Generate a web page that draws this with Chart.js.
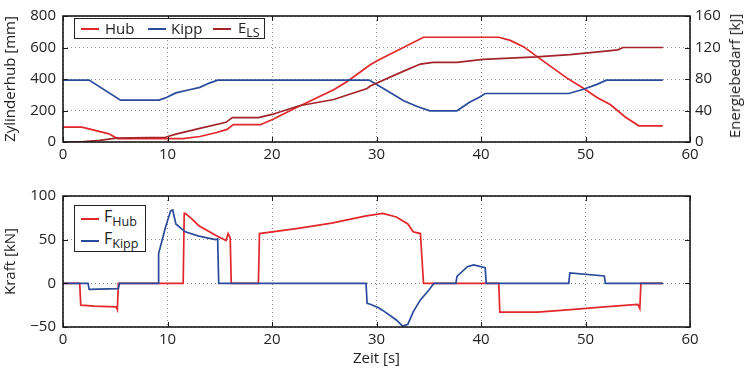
<!DOCTYPE html>
<html>
<head>
<meta charset="utf-8">
<script src="https://cdn.jsdelivr.net/npm/chart.js@4.4.1/dist/chart.umd.min.js"></script>
<style>
  body { margin: 0; background: #fff; font-family: 'Open Sans', sans-serif; color: #222; }
  #wrap { position: relative; width: 745px; height: 372px; }
  #oben { position: absolute; left: 0; top: 0; }
  #unten { position: absolute; left: 0; top: 165px; }
  .legende { position: absolute; background: #fff; border: 1px solid #222; font-size: 15px; }
  .legende .strich { position: absolute; height: 0; width: 18px; border-top: 2px solid; }
  .legende .txt { position: absolute; line-height: 18px; white-space: nowrap; }
  .legende sub { font-size: 12.5px; vertical-align: -4px; line-height: 0; }
  #titelRechts { position: absolute; left: 734px; top: 76px; font-size: 15px; white-space: nowrap;
                 transform: translate(-50%, -50%) rotate(-90deg); }
</style>
</head>
<body>
<div id="wrap">
  <canvas id="oben" width="745" height="165"></canvas>
  <canvas id="unten" width="745" height="207"></canvas>

  <div class="legende" style="left:74px; top:18px; width:189px; height:19px;">
    <span class="strich" style="left:6px; top:9px; border-color:#e3262a;"></span>
    <span class="txt" style="left:30px; top:0px;">Hub</span>
    <span class="strich" style="left:73px; top:9px; border-color:#2a4b9b;"></span>
    <span class="txt" style="left:96px; top:0px;">Kipp</span>
    <span class="strich" style="left:138px; top:9px; border-color:#a3252b;"></span>
    <span class="txt" style="left:163px; top:-1px;">E<sub>LS</sub></span>
  </div>

  <div class="legende" style="left:74px; top:205px; width:70px; height:45px;">
    <span class="strich" style="left:6px; top:12px; border-color:#e3262a;"></span>
    <span class="txt" style="left:29px; top:1px; font-size:16px;">F<sub>Hub</sub></span>
    <span class="strich" style="left:6px; top:34px; border-color:#2a4b9b;"></span>
    <span class="txt" style="left:29px; top:23px; font-size:16px;">F<sub>Kipp</sub></span>
  </div>

  <div id="titelRechts">Energiebedarf [kJ]</div>
</div>
<script>
// oberes Diagramm: Zylinderhub [mm] und Energiebedarf [kJ]
const hubZeit = [0, 1.8, 4.4, 5.2, 11.5, 13.1, 14.7, 15.7, 16.3, 18.9, 20.1, 22, 25.9, 27.2, 29.4, 30.2, 34.5, 41.7, 42.8, 44.1, 45.6, 46.9, 48.2, 49.8, 51.1, 52.4, 53.8, 55.1, 57.4];
const hub = [94, 94, 52, 22, 22, 35, 60, 80, 110, 110, 145, 208, 332, 384, 490, 520, 665, 665, 645, 604, 531, 469, 407, 341, 283, 236, 159, 103, 103];

const kippZeit = [0, 2.5, 5.5, 9.2, 9.8, 10.8, 12.1, 13.1, 14, 14.8, 29.3, 31.3, 32.6, 33.9, 35.1, 37.7, 38.9, 39.8, 40.4, 48.4, 49.8, 51.1, 52.0, 57.4];
const kipp = [393, 393, 266, 266, 280, 312, 332, 347, 374, 393, 393, 314, 262, 225, 198, 198, 252, 283, 308, 308, 335, 366, 393, 393];

const elsZeit = [0, 2, 3.5, 5.1, 9.8, 10.8, 13, 15.6, 16.2, 18.7, 20, 22.6, 25.9, 29.1, 29.4, 32.6, 34.2, 35.4, 37.7, 40.2, 45.3, 48.5, 51.7, 53.1, 53.6, 57.4];
const els = [0, 0.5, 2, 5, 6, 10, 17, 25, 31, 31, 35, 46, 54, 68, 71, 90, 99, 101, 101, 105, 108, 111, 115, 117, 120, 120];

// unteres Diagramm: Kraft [kN]
const fHubZeit = [0, 1.6, 1.7, 3, 5.1, 5.2, 5.3, 11.5, 11.6, 11.7, 12.3, 13, 14.6, 15.6, 15.8, 16.0, 16.1, 18.7, 18.8, 22.5, 25.7, 28.9, 30.6, 31.9, 33, 33.5, 34.2, 34.5, 41.7, 41.8, 45.4, 48.6, 51.8, 55.0, 55.2, 55.3, 57.4];
const fHub = [0, 0, -25, -26, -27, -30, 0, 0, 80, 80, 74, 66, 55, 49, 57, 52, 0, 0, 57, 63, 69, 77, 80, 76, 68, 59, 57, 0, 0, -33, -33, -30, -27, -24, -29, 0, 0];

const fKippZeit = [0, 2.4, 2.5, 5.3, 5.4, 9.1, 9.15, 9.8, 10.3, 10.5, 10.8, 11.7, 13, 14.6, 14.8, 14.9, 29.0, 29.1, 29.4, 30.2, 30.6, 31.9, 32.5, 33, 33.5, 34.2, 35, 35.5, 37.6, 37.7, 38.7, 39.3, 40.4, 40.5, 48.4, 48.5, 51.8, 51.9, 57.4];
const fKipp = [0, 0, -7, -6, 0, 0, 34, 64, 83, 84, 68, 59, 54, 50, 51, 0, 0, -23, -24, -28, -31, -42, -49, -47, -33, -19, -8, 0, 0, 8, 19, 21, 18, 0, 0, 12, 8.4, 0, 0];

const xTicks = [0, 10, 20, 30, 40, 50, 60];

const rot = '#e3262a';
const blau = '#2a4b9b';
const braun = '#a3252b';
const schrift = { family: "'Open Sans', sans-serif", size: 15 };
const textFarbe = '#222';

function punkte(zeit, werte) {
    return zeit.map((t, i) => ({ x: t, y: werte[i] }));
}

// Rahmen mit Tickmarken nach innen (wie Matlab)
const rahmen = {
    id: 'rahmen',
    afterDraw(chart) {
        const { ctx, chartArea: a, scales } = chart;
        ctx.save();
        ctx.strokeStyle = '#1a1a1a';
        ctx.lineWidth = 1;
        ctx.beginPath();
        scales.x.ticks.forEach(t => {
            const px = Math.round(scales.x.getPixelForValue(t.value)) + 0.5;
            ctx.moveTo(px, a.bottom); ctx.lineTo(px, a.bottom - 5);
            ctx.moveTo(px, a.top); ctx.lineTo(px, a.top + 5);
        });
        scales.y.ticks.forEach(t => {
            const py = Math.round(scales.y.getPixelForValue(t.value)) + 0.5;
            ctx.moveTo(a.left, py); ctx.lineTo(a.left + 5, py);
            ctx.moveTo(a.right, py); ctx.lineTo(a.right - 5, py);
        });
        ctx.stroke();
        ctx.lineWidth = 1.6;
        ctx.strokeRect(a.left, a.top, a.right - a.left, a.bottom - a.top);
        ctx.restore();
    }
};

const xAchse = (hoehe, titel) => ({
    type: 'linear', min: 0, max: 60,
    afterBuildTicks: s => { s.ticks = xTicks.map(v => ({ value: v })); },
    ticks: { font: schrift, color: textFarbe, padding: 4, maxRotation: 0 },
    grid: { drawTicks: false, color: '#8a8a8a', lineWidth: 1 },
    border: { display: false, dash: [1, 3] },
    title: { display: !!titel, text: titel, font: schrift, color: textFarbe, padding: { top: 0, bottom: 4 } },
    afterFit: s => { s.height = hoehe; }
});

const gemeinsam = {
    responsive: false,
    animation: false,
    parsing: false,
    elements: { point: { radius: 0 }, line: { borderWidth: 1.7, tension: 0 } },
    plugins: { legend: { display: false }, tooltip: { enabled: false } }
};

new Chart(document.getElementById('oben'), {
    type: 'line',
    data: {
        datasets: [
            { label: 'Hub', data: punkte(hubZeit, hub), borderColor: rot, yAxisID: 'y', order: 2 },
            { label: 'Kipp', data: punkte(kippZeit, kipp), borderColor: blau, yAxisID: 'y', order: 1 },
            { label: 'E_LS', data: punkte(elsZeit, els), borderColor: braun, yAxisID: 'y2', order: 0 }
        ]
    },
    options: {
        ...gemeinsam,
        layout: { padding: { top: 13, left: 0, right: 0, bottom: 0 } },
        scales: {
            x: xAchse(23, ''),
            y: {
                min: 0, max: 800,
                ticks: { stepSize: 200, font: schrift, color: textFarbe, padding: 7 },
                grid: { drawTicks: false, color: '#8a8a8a', lineWidth: 1 },
                border: { display: false, dash: [1, 3] },
                title: { display: true, text: 'Zylinderhub [mm]', font: schrift, color: textFarbe, padding: { top: 2, bottom: 0 } },
                afterFit: s => { s.width = 63; }
            },
            y2: {
                position: 'right', min: 0, max: 160,
                ticks: { stepSize: 40, font: schrift, color: textFarbe, padding: 5 },
                grid: { display: false, drawTicks: false },
                border: { display: false },
                afterFit: s => { s.width = 55; }
            }
        }
    },
    plugins: [rahmen]
});

new Chart(document.getElementById('unten'), {
    type: 'line',
    data: {
        datasets: [
            { label: 'F_Hub', data: punkte(fHubZeit, fHub), borderColor: rot, order: 1 },
            { label: 'F_Kipp', data: punkte(fKippZeit, fKipp), borderColor: blau, order: 0 }
        ]
    },
    options: {
        ...gemeinsam,
        layout: { padding: { top: 31, left: 0, right: 55, bottom: 0 } },
        scales: {
            x: xAchse(45, 'Zeit [s]'),
            y: {
                min: -50, max: 100,
                ticks: {
                    stepSize: 50, font: schrift, color: textFarbe, padding: 7,
                    callback: v => v < 0 ? '\u2212' + Math.abs(v) : String(v)
                },
                grid: { drawTicks: false, color: '#8a8a8a', lineWidth: 1 },
                border: { display: false, dash: [1, 3] },
                title: { display: true, text: 'Kraft [kN]', font: schrift, color: textFarbe, padding: { top: 2, bottom: 0 } },
                afterFit: s => { s.width = 63; }
            }
        }
    },
    plugins: [rahmen]
});
</script>
</body>
</html>
